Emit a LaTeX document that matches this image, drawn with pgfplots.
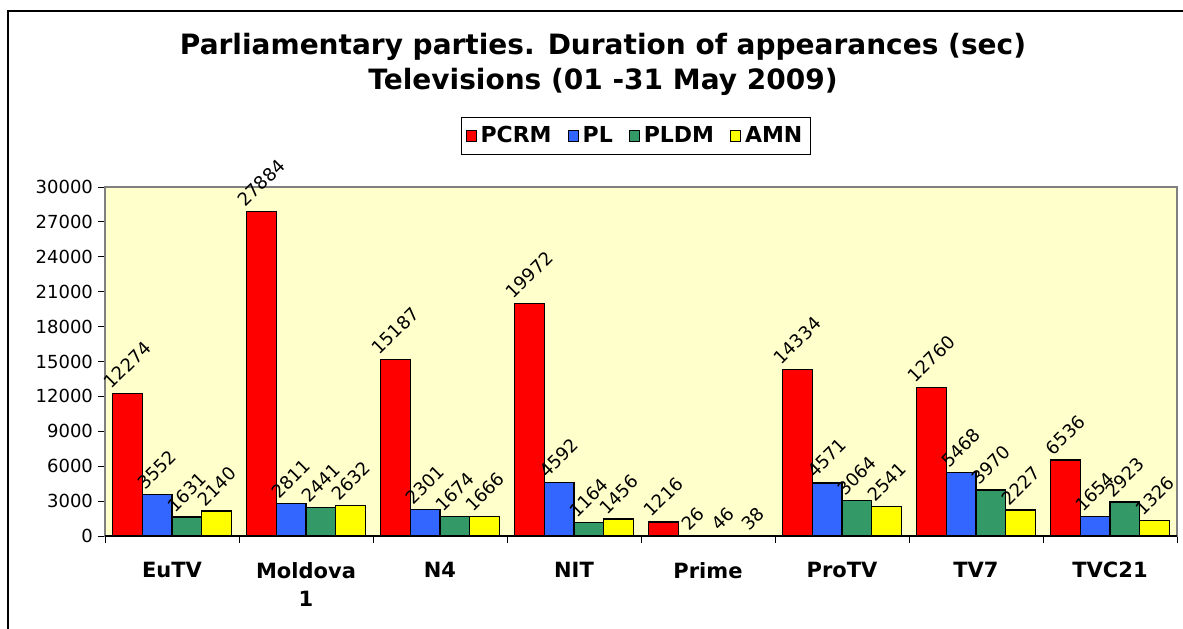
\documentclass[border=0pt]{standalone}
\usepackage{fontspec}
\setmainfont{DejaVu Sans}
\usepackage{graphicx}
\usepackage{pgfplots}
\pgfplotsset{compat=1.18}

\definecolor{pcrm}{HTML}{FF0000}
\definecolor{pl}{HTML}{3366FF}
\definecolor{pldm}{HTML}{339966}
\definecolor{amn}{HTML}{FFFF00}
\definecolor{plotbg}{HTML}{FFFFCC}

\begin{document}
\begin{tikzpicture}
\path[use as bounding box] (0,0) rectangle (591.5pt,314pt);
\draw[line width=1pt] (4pt,-5pt) -- (4pt,308.5pt) -- (600pt,308.5pt);
\node[font=\bfseries\fontsize{14}{17.5}\selectfont, align=center]
  at (301.5pt,282pt)
  {Parliamentary parties. Duration of appearances (sec)\\Televisions (01 -31 May 2009)};
\begin{axis}[
    at={(52.5pt,46pt)}, anchor=south west,
    scale only axis,
    width=536pt, height=174.5pt,
    ybar=0pt,
    bar width=0.222,
    xmin=-0.5, xmax=7.5,
    ymin=0, ymax=30000,
    xtick={0,...,7},
    xticklabels={EuTV,Moldova\\1,N4,NIT,Prime,ProTV,TV7,TVC21},
    minor xtick={-0.5,0.5,...,7.5},
    major x tick style={draw=none},
    ytick={0,3000,...,30000},
    xtick pos=bottom, ytick pos=left,
    tick align=outside,
    major tick length=3.5pt, minor tick length=3.5pt,
    tick style={black, line width=0.5pt},
    axis line style={gray, line width=0.6pt},
    axis background/.style={fill=plotbg},
    scaled y ticks=false,
    /pgf/number format/1000 sep={},
    /pgf/number format/assume math mode=true,
    yticklabel style={font=\fontsize{9}{10}\selectfont, xshift=1pt},
    xticklabel style={font=\bfseries\fontsize{10.5}{14}\selectfont, align=center, anchor=north, yshift=-6pt},
    every axis plot/.append style={draw=black, line width=0.7pt},
    nodes near coords={\rotatebox{45}{\pgfmathprintnumber{\pgfplotspointmeta}}},
    every node near coord/.append style={font=\fontsize{9}{10}\selectfont, anchor=south, inner sep=1.5pt, black},
    clip=false,
    legend columns=4,
    legend style={at={(0.4953,1.146)}, anchor=center, draw=black, line width=0.5pt,
        font=\bfseries\fontsize{11}{12}\selectfont, inner sep=2.2pt,
        /tikz/every even column/.append style={column sep=6pt}},
    legend image code/.code={\draw[#1, draw=black, line width=0.5pt] (0pt,-2.7pt) rectangle (5pt,2.7pt);},
]
\addplot[fill=pcrm] coordinates {
    (0,12274) (1,27884) (2,15187) (3,19972) (4,1216) (5,14334) (6,12760) (7,6536)
};
\addplot[fill=pl] coordinates {
    (0,3552) (1,2811) (2,2301) (3,4592) (4,26) (5,4571) (6,5468) (7,1654)
};
\addplot[fill=pldm] coordinates {
    (0,1631) (1,2441) (2,1674) (3,1164) (4,46) (5,3064) (6,3970) (7,2923)
};
\addplot[fill=amn] coordinates {
    (0,2140) (1,2632) (2,1666) (3,1456) (4,38) (5,2541) (6,2227) (7,1326)
};
\legend{PCRM,PL,PLDM,AMN}
\draw[black, line width=0.7pt] (rel axis cs:0,0) -- (rel axis cs:1,0);
\end{axis}
\end{tikzpicture}
\end{document}
